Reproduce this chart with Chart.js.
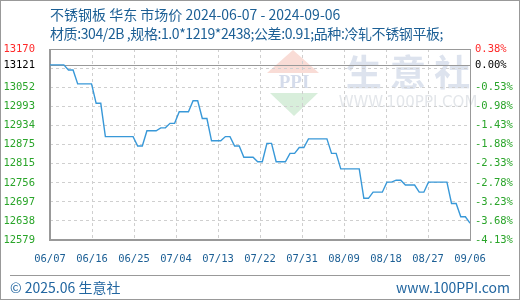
<!DOCTYPE html>
<html lang="zh">
  <head>
    <meta charset="UTF-8" />
    <title>不锈钢板 华东 市场价</title>
    <script src="https://cdn.jsdelivr.net/npm/chart.js@4"></script>
    <style>
      body { margin: 0; background: #fff; }
      #box { position: relative; width: 520px; height: 300px; border: 1px solid #999; box-sizing: border-box; overflow: hidden; }
      #myChart { position: absolute; left: -1px; top: -1px; }
      .head { position: absolute; left: 49px; color: #1c5f95; font: 14px "Noto Sans CJK SC", sans-serif; white-space: nowrap; }
      .foot { position: absolute; top: 276px; color: #2266a0; font: 14px "Noto Sans CJK SC", sans-serif; white-space: nowrap; }
      #rule { position: absolute; left: 9px; top: 274px; width: 500px; height: 1px; background: #999; }
    </style>
  </head>
  <body>
    <div id="box">
      <canvas id="myChart" width="520" height="300"></canvas>
      <div class="head" style="top: 3px">不锈钢板 华东 市场价 2024-06-07 - 2024-09-06</div>
      <div class="head" style="top: 22px; letter-spacing: -0.4px">材质:304/2B ,规格:1.0*1219*2438;公差:0.91;品种:冷轧不锈钢平板;</div>
      <div id="rule"></div>
      <div class="foot" style="left: 9px">© 2025.06 生意社</div>
      <div class="foot" style="right: 9px">www.100PPI.com</div>
    </div>
    <script>
      // daily price, day 0 = 06/07 ... day 91 = 09/06
      const prices = [
        13121, 13121, 13121, 13121, 13105, 13105, 13062, 13062, 13062, 13062,
        13002, 13002, 12899, 12899, 12899, 12899, 12899, 12899, 12899, 12870,
        12870, 12917, 12917, 12917, 12926, 12926, 12940, 12940, 12976, 12976,
        12976, 13010, 13010, 12955, 12955, 12886, 12886, 12886, 12899, 12899,
        12870, 12870, 12835, 12835, 12835, 12821, 12821, 12878, 12878, 12821,
        12821, 12821, 12847, 12847, 12865, 12865, 12892, 12892, 12892, 12892,
        12892, 12847, 12847, 12799, 12799, 12799, 12799, 12799, 12708, 12708,
        12727, 12727, 12727, 12758, 12758, 12764, 12764, 12749, 12749, 12749,
        12727, 12727, 12758, 12758, 12758, 12758, 12758, 12692, 12692, 12651,
        12651, 12631
      ];
      const dateLabels = ["06/07", "06/16", "06/25", "07/04", "07/13", "07/22", "07/31", "08/09", "08/18", "08/27", "09/06"];
      const baseValue = 13121;
      const priceTicks = [12579, 12638, 12697, 12756, 12815, 12875, 12934, 12993, 13052, 13111, 13121, 13170];
      const priceLabels = ["12579", "12638", "12697", "12756", "12815", "12875", "12934", "12993", "13052", "", "13121", "13170"];
      const pctLabels = ["-4.13%", "-3.68%", "-3.23%", "-2.78%", "-2.33%", "-1.88%", "-1.43%", "-0.98%", "-0.53%", "", "0.00%", "0.38%"];

      const tickFont = { family: "DejaVu Sans Mono", size: 10.5 };
      const labelColor = (ctx) => {
        const v = ctx.tick ? ctx.tick.value : 0;
        if (v > baseValue) return "#ff2a2a";
        if (v === baseValue) return "#000";
        return "#2aa52a";
      };

      // watermark, frame and 0% line
      const decor = {
        id: "decor",
        beforeDraw(chart) {
          const c = chart.ctx;
          c.save();
          c.fillStyle = "#f9dcd6";
          c.beginPath(); c.moveTo(293, 50); c.lineTo(319, 73); c.lineTo(267, 73); c.closePath(); c.fill();
          c.fillStyle = "#d8eedb";
          c.beginPath(); c.moveTo(270, 93); c.lineTo(318, 93); c.lineTo(294, 116); c.closePath(); c.fill();
          c.fillStyle = "#d5dceb";
          c.font = "bold 19px 'Liberation Serif'";
          c.textAlign = "center";
          c.textBaseline = "middle";
          c.fillText("PPI", 294, 83);
          c.font = "bold 36px 'Noto Sans CJK SC'";
          c.fillStyle = "#dde3ee";
          c.fillText("生 意 社", 408, 72);
          c.font = "15px 'DejaVu Sans'";
          c.fillStyle = "#e3e6ea";
          c.fillText("WWW.100PPI.COM", 408, 103);
          c.restore();
        },
        beforeDatasetsDraw(chart) {
          const { ctx, chartArea: a, scales } = chart;
          ctx.save();
          ctx.strokeStyle = "#999";
          ctx.lineWidth = 1;
          const yb = Math.round(scales.y.getPixelForValue(baseValue)) + 0.5;
          ctx.beginPath(); ctx.moveTo(a.left, yb); ctx.lineTo(a.right, yb); ctx.stroke();
          ctx.strokeRect(a.left + 0.5, a.top + 0.5, a.right - a.left, a.bottom - a.top);
          ctx.lineWidth = 2;
          ctx.beginPath();
          ctx.moveTo(a.left, a.top); ctx.lineTo(a.left, a.bottom); ctx.lineTo(a.right + 1, a.bottom);
          ctx.stroke();
          ctx.restore();
        },
      };

      new Chart(document.getElementById("myChart"), {
        type: "line",
        data: {
          datasets: [
            {
              data: prices.map((p, i) => ({ x: i, y: p })),
              borderColor: "#3898d8",
              borderWidth: 1.4,
              pointRadius: 0,
              tension: 0,
              fill: false,
            },
          ],
        },
        options: {
          responsive: false,
          animation: false,
          layout: { padding: { top: 49, left: 0, right: 0, bottom: 0 } },
          plugins: { legend: { display: false }, tooltip: { enabled: false } },
          scales: {
            x: {
              type: "linear",
              min: 0,
              max: prices.length - 1,
              afterBuildTicks: (s) => { s.ticks = dateLabels.map((_, i) => ({ value: (i * (prices.length - 1)) / (dateLabels.length - 1) })); },
              afterFit: (s) => { s.height = 60; },
              ticks: { callback: (v, i) => dateLabels[i], color: "#1c5f95", font: tickFont, padding: 13, maxRotation: 0, autoSkip: false },
              grid: { color: "#cfcfcf", drawTicks: false },
              border: { display: false, dash: [3, 3] },
            },
            y: {
              position: "left",
              min: priceTicks[0],
              max: priceTicks[priceTicks.length - 1],
              afterBuildTicks: (s) => { s.ticks = priceTicks.map((v) => ({ value: v })); },
              afterFit: (s) => { s.width = 50; },
              ticks: { callback: (v, i) => priceLabels[i], color: labelColor, font: tickFont, padding: 15, autoSkip: false },
              grid: { color: (ctx) => (ctx.tick && ctx.tick.value === baseValue ? "rgba(0,0,0,0)" : "#cfcfcf"), drawTicks: false },
              border: { display: false, dash: [3, 3] },
            },
            y2: {
              position: "right",
              min: priceTicks[0],
              max: priceTicks[priceTicks.length - 1],
              afterBuildTicks: (s) => { s.ticks = priceTicks.map((v) => ({ value: v })); },
              afterFit: (s) => { s.width = 50; },
              ticks: { callback: (v, i) => pctLabels[i], color: labelColor, font: tickFont, padding: 5, autoSkip: false },
              grid: { display: false, drawTicks: false },
              border: { display: false },
            },
          },
        },
        plugins: [decor],
      });
    </script>
  </body>
</html>
